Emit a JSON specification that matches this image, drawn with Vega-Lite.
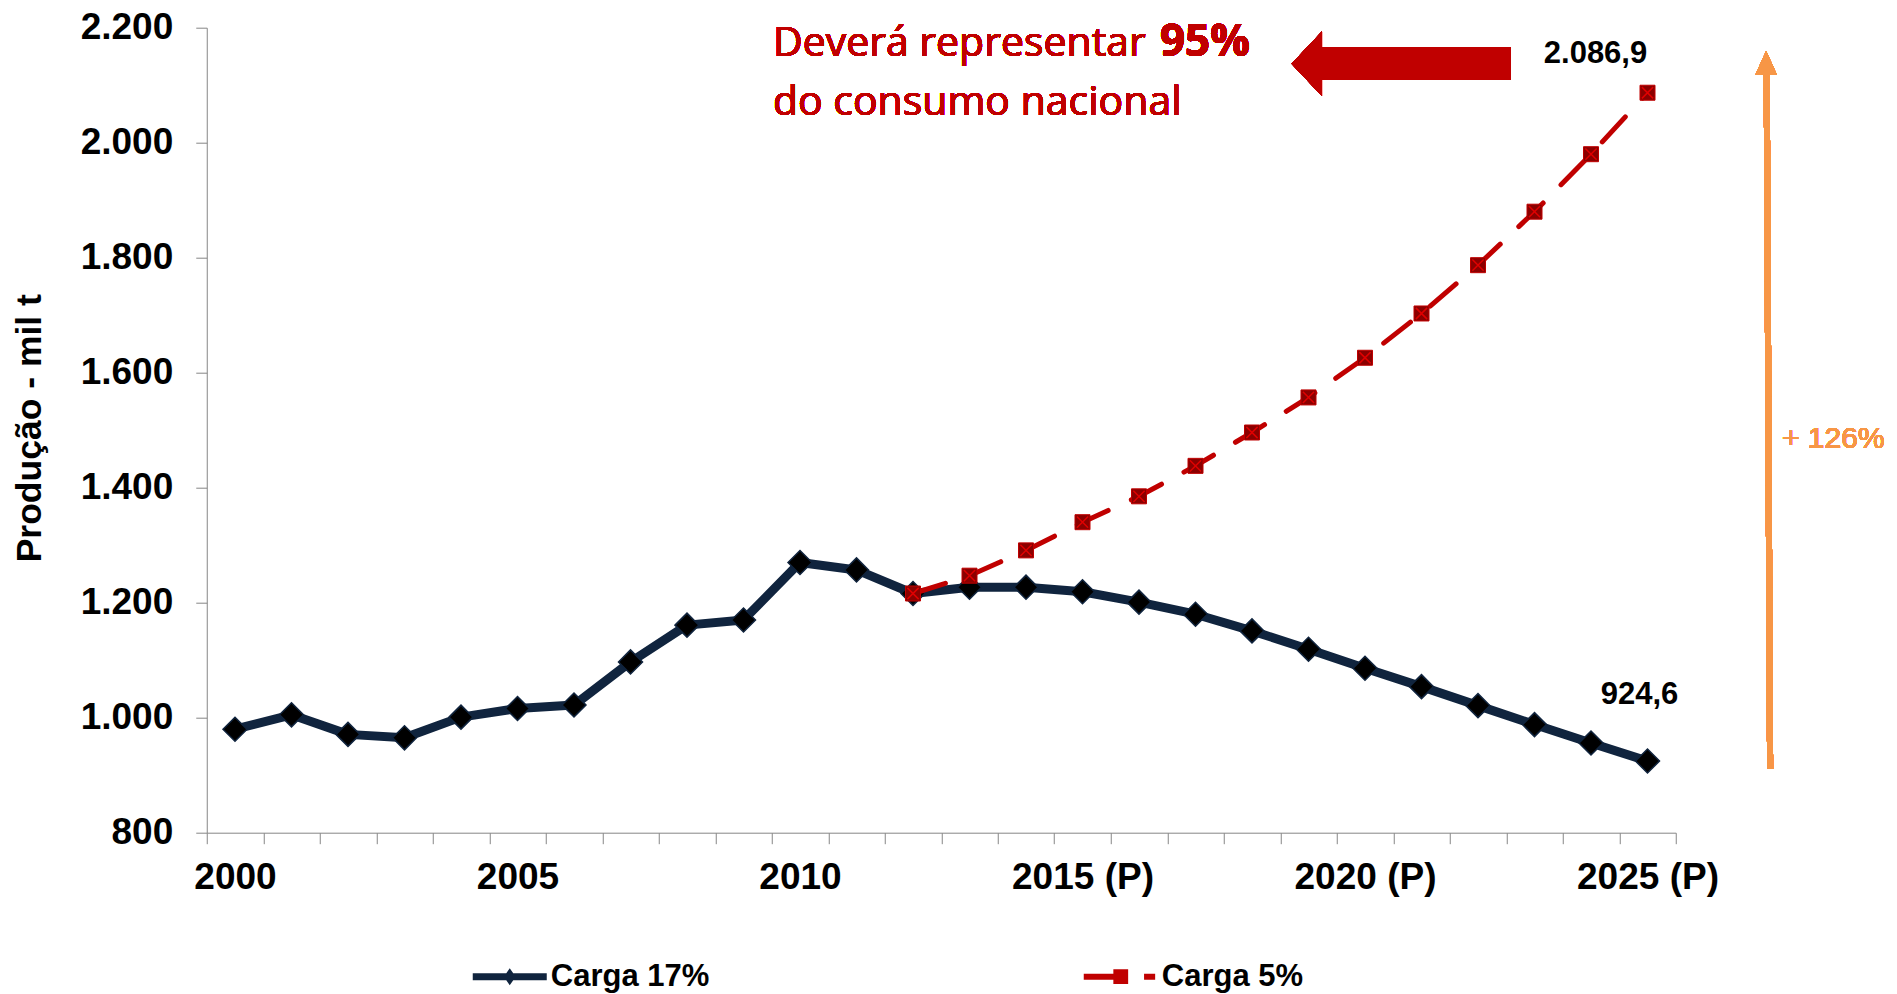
{
  "$schema": "https://vega.github.io/schema/vega-lite/v6.json",
  "width": 1469,
  "height": 805,
  "autosize": "none",
  "padding": {"left": 206.75, "top": 27.7, "right": 221.25, "bottom": 161.3},
  "background": "white",
  "config": {
    "view": {"stroke": null},
    "locale": {"number": {"decimal": ",", "thousands": ".", "grouping": [3], "currency": ["R$", ""]}},
    "font": "Liberation Sans"
  },
  "datasets": {
    "producao": [
      {"ano": 2000, "valor": 980, "serie": "Carga 17%"},
      {"ano": 2001, "valor": 1005, "serie": "Carga 17%"},
      {"ano": 2002, "valor": 971, "serie": "Carga 17%"},
      {"ano": 2003, "valor": 965, "serie": "Carga 17%"},
      {"ano": 2004, "valor": 1001, "serie": "Carga 17%"},
      {"ano": 2005, "valor": 1016, "serie": "Carga 17%"},
      {"ano": 2006, "valor": 1022, "serie": "Carga 17%"},
      {"ano": 2007, "valor": 1097, "serie": "Carga 17%"},
      {"ano": 2008, "valor": 1161, "serie": "Carga 17%"},
      {"ano": 2009, "valor": 1170, "serie": "Carga 17%"},
      {"ano": 2010, "valor": 1270, "serie": "Carga 17%"},
      {"ano": 2011, "valor": 1257, "serie": "Carga 17%"},
      {"ano": 2012, "valor": 1216, "serie": "Carga 17%"},
      {"ano": 2013, "valor": 1227, "serie": "Carga 17%"},
      {"ano": 2014, "valor": 1227, "serie": "Carga 17%"},
      {"ano": 2015, "valor": 1219, "serie": "Carga 17%"},
      {"ano": 2016, "valor": 1201, "serie": "Carga 17%"},
      {"ano": 2017, "valor": 1180, "serie": "Carga 17%"},
      {"ano": 2018, "valor": 1151, "serie": "Carga 17%"},
      {"ano": 2019, "valor": 1119, "serie": "Carga 17%"},
      {"ano": 2020, "valor": 1086, "serie": "Carga 17%"},
      {"ano": 2021, "valor": 1054, "serie": "Carga 17%"},
      {"ano": 2022, "valor": 1021, "serie": "Carga 17%"},
      {"ano": 2023, "valor": 988, "serie": "Carga 17%"},
      {"ano": 2024, "valor": 956, "serie": "Carga 17%"},
      {"ano": 2025, "valor": 924.6, "serie": "Carga 17%"},
      {"ano": 2012, "valor": 1216, "serie": "Carga 5%"},
      {"ano": 2013, "valor": 1247, "serie": "Carga 5%"},
      {"ano": 2014, "valor": 1291, "serie": "Carga 5%"},
      {"ano": 2015, "valor": 1340, "serie": "Carga 5%"},
      {"ano": 2016, "valor": 1385, "serie": "Carga 5%"},
      {"ano": 2017, "valor": 1438, "serie": "Carga 5%"},
      {"ano": 2018, "valor": 1496, "serie": "Carga 5%"},
      {"ano": 2019, "valor": 1557, "serie": "Carga 5%"},
      {"ano": 2020, "valor": 1626, "serie": "Carga 5%"},
      {"ano": 2021, "valor": 1703, "serie": "Carga 5%"},
      {"ano": 2022, "valor": 1787, "serie": "Carga 5%"},
      {"ano": 2023, "valor": 1880, "serie": "Carga 5%"},
      {"ano": 2024, "valor": 1980, "serie": "Carga 5%"},
      {"ano": 2025, "valor": 2086.9, "serie": "Carga 5%"}
    ]
  },
  "data": {"name": "producao"},
  "encoding": {
    "x": {
      "field": "ano",
      "type": "quantitative",
      "scale": {"domain": [1999.5, 2025.5], "nice": false, "zero": false},
      "axis": {
        "title": null,
        "grid": false,
        "values": [1999.5, 2000.5, 2001.5, 2002.5, 2003.5, 2004.5, 2005.5, 2006.5, 2007.5, 2008.5, 2009.5, 2010.5, 2011.5, 2012.5, 2013.5, 2014.5, 2015.5, 2016.5, 2017.5, 2018.5, 2019.5, 2020.5, 2021.5, 2022.5, 2023.5, 2024.5, 2025.5],
        "labelExpr": "(datum.value + 0.5) % 5 === 0 ? ((datum.value + 0.5) >= 2015 ? (datum.value + 0.5) + ' (P)' : '' + (datum.value + 0.5)) : ''",
        "labelOffset": 28.25,
        "labelAlign": "center",
        "labelBaseline": "top",
        "labelPadding": 16,
        "labelFlush": false,
        "labelOverlap": false,
        "labelBound": false,
        "labelFont": "Liberation Sans",
        "labelFontWeight": "bold",
        "labelFontSize": 37,
        "labelColor": "#000000",
        "tickSize": 11,
        "tickColor": "#868686",
        "tickWidth": 1,
        "domainColor": "#868686",
        "domainWidth": 1
      }
    },
    "y": {
      "field": "valor",
      "type": "quantitative",
      "scale": {"domain": [800, 2200], "nice": false, "zero": false},
      "axis": {
        "title": "Produção - mil t",
        "titleFont": "Liberation Sans",
        "titleFontWeight": "bold",
        "titleFontSize": 35.5,
        "titleColor": "#000000",
        "titleAngle": -90,
        "titleX": -177,
        "titleY": 400,
        "titleAlign": "center",
        "titleBaseline": "middle",
        "grid": false,
        "values": [800, 1000, 1200, 1400, 1600, 1800, 2000, 2200],
        "format": ",d",
        "labelFont": "Liberation Sans",
        "labelFontWeight": "bold",
        "labelFontSize": 37,
        "labelColor": "#000000",
        "labelPadding": 23,
        "tickSize": 11,
        "tickColor": "#868686",
        "tickWidth": 1,
        "domainColor": "#868686",
        "domainWidth": 1
      }
    }
  },
  "layer": [
    {
      "transform": [{"filter": "datum.serie === 'Carga 17%'"}],
      "mark": {"type": "line", "color": "#10243E", "strokeWidth": 9, "strokeJoin": "round"}
    },
    {
      "transform": [{"filter": "datum.serie === 'Carga 17%'"}],
      "mark": {"type": "point", "shape": "diamond", "size": 576, "filled": true, "fill": "#000000", "stroke": "#10243E", "strokeWidth": 1.5, "opacity": 1}
    },
    {
      "transform": [{"filter": "datum.serie === 'Carga 5%'"}],
      "mark": {"type": "line", "color": "#C00000", "strokeWidth": 5, "strokeDash": [34, 25.5], "strokeCap": "round"}
    },
    {
      "transform": [{"filter": "datum.serie === 'Carga 5%'"}],
      "mark": {"type": "point", "shape": "square", "size": 225, "filled": true, "fill": "#8B0000", "stroke": "#C00000", "strokeWidth": 1, "opacity": 1}
    },
    {
      "transform": [{"filter": "datum.serie === 'Carga 5%'"}],
      "mark": {"type": "point", "shape": "M -0.75 -0.75 L 0.75 0.75 M 0.75 -0.75 L -0.75 0.75", "size": 225, "filled": false, "stroke": "#E00000", "strokeWidth": 1.5, "opacity": 1}
    },
    {
      "transform": [{"filter": "false"}],
      "mark": {"type": "point", "filled": true, "opacity": 1},
      "encoding": {
        "color": {
          "field": "serie",
          "type": "nominal",
          "scale": {"domain": ["Carga 17%", "Carga 5%"], "range": ["#10243E", "#C00000"]},
          "legend": {
            "orient": "none",
            "legendX": 266,
            "legendY": 912,
            "direction": "horizontal",
            "title": null,
            "padding": 0,
            "symbolSize": 5476,
            "symbolStrokeWidth": 0,
            "symbolOpacity": 1,
            "labelFont": "Liberation Sans",
            "labelFontWeight": "bold",
            "labelFontSize": 31,
            "labelColor": "#000000",
            "labelLimit": 400,
            "labelOffset": 4,
            "columnPadding": 374,
            "encode": {
              "symbols": {
                "update": {
                  "shape": {"signal": "datum.value === 'Carga 17%' ? 'M -1 -0.095 L 1 -0.095 L 1 0.095 L -1 0.095 Z M 0 -0.23 L 0.16 0 L 0 0.23 L -0.16 0 Z' : 'M -1 -0.08 L -0.2 -0.08 L -0.2 -0.2 L 0.2 -0.2 L 0.2 0.2 L -0.2 0.2 L -0.2 0.08 L -1 0.08 Z M 0.63 -0.08 L 0.93 -0.08 L 0.93 0.08 L 0.63 0.08 Z'"}
                }
              }
            }
          }
        }
      }
    },
    {
      "transform": [{"filter": "datum.serie === 'Carga 5%' && datum.ano === 2025"}],
      "mark": {"type": "text", "dx": -52, "dy": -30, "align": "center", "baseline": "alphabetic", "font": "Liberation Sans", "fontWeight": "bold", "fontSize": 31, "color": "#000000"},
      "encoding": {"text": {"field": "valor", "type": "quantitative", "format": ",.1f"}}
    },
    {
      "transform": [{"filter": "datum.serie === 'Carga 17%' && datum.ano === 2025"}],
      "mark": {"type": "text", "dx": -8, "dy": -57, "align": "center", "baseline": "alphabetic", "font": "Liberation Sans", "fontWeight": "bold", "fontSize": 31, "color": "#000000"},
      "encoding": {"text": {"field": "valor", "type": "quantitative", "format": ",.1f"}}
    },
    {
      "mark": {"type": "point", "shape": "M -1 0 L -0.7225 -0.294 L -0.7225 -0.148 L 1 -0.148 L 1 0.148 L -0.7225 0.148 L -0.7225 0.294 Z", "size": 48005, "filled": true, "fill": "#C00000", "strokeWidth": 0, "opacity": 1},
      "encoding": {
        "x": {"datum": 2020.64, "type": "quantitative"},
        "y": {"datum": 2137.2, "type": "quantitative"}
      }
    },
    {
      "mark": {"type": "text", "text": "Deverá representar", "align": "left", "baseline": "alphabetic", "font": "Open Sans", "fontWeight": "normal", "fontSize": 41, "color": "#C00000"},
      "encoding": {
        "x": {"datum": 2009.52, "type": "quantitative"},
        "y": {"datum": 2150.8, "type": "quantitative"}
      }
    },
    {
      "mark": {"type": "text", "text": "95%", "align": "left", "baseline": "alphabetic", "font": "Open Sans", "fontWeight": "bold", "fontSize": 44, "color": "#C00000"},
      "encoding": {
        "x": {"datum": 2016.37, "type": "quantitative"},
        "y": {"datum": 2150.8, "type": "quantitative"}
      }
    },
    {
      "mark": {"type": "text", "text": "do consumo nacional", "align": "left", "baseline": "alphabetic", "font": "Open Sans", "fontWeight": "normal", "fontSize": 41, "color": "#C00000"},
      "encoding": {
        "x": {"datum": 2009.52, "type": "quantitative"},
        "y": {"datum": 2048.2, "type": "quantitative"}
      }
    },
    {
      "mark": {"type": "rule", "color": "#F79646", "strokeWidth": 6},
      "encoding": {
        "x": {"datum": 2027.17, "type": "quantitative"},
        "y": {"datum": 910.8, "type": "quantitative"},
        "x2": {"datum": 2027.11},
        "y2": {"datum": 2117.7}
      }
    },
    {
      "mark": {"type": "point", "shape": "M 0 -1 L 0.9 1 L -0.9 1 Z", "size": 576, "filled": true, "fill": "#F79646", "strokeWidth": 0, "opacity": 1},
      "encoding": {
        "x": {"datum": 2027.1, "type": "quantitative"},
        "y": {"datum": 2138.6, "type": "quantitative"}
      }
    },
    {
      "mark": {"type": "text", "text": "+ 126%", "align": "left", "baseline": "middle", "font": "Liberation Sans", "fontWeight": "normal", "fontSize": 30, "color": "#F79646"},
      "encoding": {
        "x": {"datum": 2027.38, "type": "quantitative"},
        "y": {"datum": 1484.7, "type": "quantitative"}
      }
    }
  ]
}
